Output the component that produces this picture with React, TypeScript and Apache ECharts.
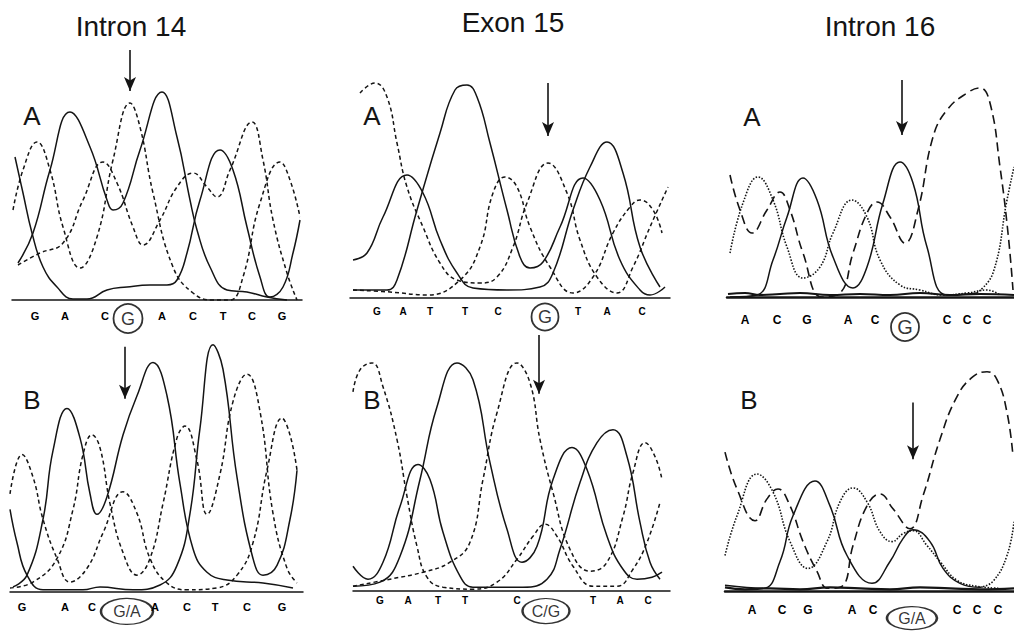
import React, { useEffect, useRef } from "react";
import * as echarts from "echarts";

type Pt = [number, number];

// ---------- Panel 1: Intron 14, A ----------
const i14A_A: Pt[] = [[18,37],[33,67],[50,130],[70,188],[90,153],[107,100],[113,90],[123,97],[140,150],[162,208],[177,163],[190,100],[197,70],[210,33],[227,10],[247,8],[267,3],[287,0]];
const i14A_T: Pt[] = [[15,143],[23,107],[32,67],[43,33],[57,13],[73,1],[87,1],[107,10],[127,13],[150,15],[167,15],[177,20],[187,47],[200,100],[220,150],[233,130],[247,73],[260,23],[270,3],[283,13],[293,47],[300,80]];
const i14A_C: Pt[] = [[18,35],[40,47],[63,57],[83,100],[103,138],[117,117],[133,73],[143,55],[160,80],[177,113],[193,127],[207,113],[217,103],[230,130],[252,178],[263,140],[273,80],[287,27],[297,0]];
const i14A_G: Pt[] = [[13,90],[23,130],[37,158],[50,130],[63,73],[80,32],[97,63],[113,140],[130,197],[140,173],[153,107],[173,33],[193,7],[213,0],[230,0],[243,23],[260,97],[280,138],[290,120],[300,83]];
const i14A_bases = ["G", "A", "C", "G", "A", "C", "T", "C", "G"];
const i14A_pos = [35, 65, 105, 128, 162, 193, 223, 252, 282];

// ---------- Panel 2: Exon 15, A ----------
const e15A_G: Pt[] = [[360,205],[375,215],[387,201],[397,155],[407,111],[423,71],[440,35],[457,18],[480,15],[497,21],[513,51],[527,95],[548,135],[567,105],[580,58],[597,21],[617,5],[633,31],[650,71],[668,111]];
const e15A_C: Pt[] = [[353,8],[390,6],[427,3],[460,18],[480,51],[493,105],[505,121],[517,111],[530,71],[550,31],[573,5],[593,21],[613,65],[630,91],[640,98],[653,88],[662,65]];
const e15A_T: Pt[] = [[353,8],[387,8],[397,18],[417,88],[440,165],[455,208],[467,213],[477,201],[490,155],[507,88],[520,41],[530,30],[543,36],[560,71],[583,120],[600,98],[620,38],[640,8],[650,3],[665,11]];
const e15A_A: Pt[] = [[353,38],[367,45],[383,81],[407,123],[423,105],[440,58],[457,25],[473,10],[507,8],[540,11],[553,25],[573,88],[590,131],[607,156],[623,125],[640,51],[660,11]];
const e15A_bases = ["G", "A", "T", "T", "C", "G", "T", "A", "C"];
const e15A_pos = [377, 403, 430, 465, 498, 545, 578, 607, 642];

// ---------- Panel 3: Intron 16, A ----------
const i16A_A: Pt[] = [[730,44],[743,94],[758,120],[773,97],[787,50],[803,19],[820,30],[833,64],[852,97],[867,80],[880,37],[900,12],[920,7],[943,2],[967,4],[987,7],[1000,2]];
const i16A_G: Pt[] = [[730,0],[757,2],[773,37],[787,80],[803,119],[817,97],[833,40],[853,9],[867,30],[883,94],[900,135],[913,114],[927,50],[947,2],[977,4]];
const i16A_N: Pt[] = [[977,4],[993,24],[1007,97],[1014,130]];
const i16A_C: Pt[] = [[730,122],[740,87],[752,64],[767,87],[780,105],[790,87],[803,44],[822,0],[840,4],[853,44],[867,84],[877,95],[890,80],[905,54],[918,87],[933,160],[947,187],[967,204],[980,209],[990,194],[1000,130],[1008,64],[1013,7]];
const i16A_T: Pt[] = [[728,3],[745,4],[760,2],[780,3],[800,4],[830,2],[860,3],[890,2],[920,4],[950,2],[980,3],[1014,2]];
const i16A_bases = ["A", "C", "G", "A", "C", "G", "C", "C", "C"];
const i16A_pos = [745, 777, 807, 848, 875, 905, 947, 967, 987];

// ---------- Panel 4: Intron 14, B ----------
const i14B_A: Pt[] = [[13,5],[27,17],[43,74],[53,144],[67,187],[80,157],[90,100],[97,79],[107,97],[123,160],[137,200],[153,234],[167,200],[180,110],[193,44],[207,20],[227,12],[263,9],[293,4]];
const i14B_T: Pt[] = [[10,84],[17,50],[27,17],[43,2],[83,2],[100,5],[133,2],[160,7],[177,27],[190,80],[200,167],[213,252],[223,227],[237,117],[253,34],[263,17],[277,27],[290,74],[297,124]];
const i14B_G: Pt[] = [[10,100],[22,140],[33,117],[43,74],[57,34],[70,10],[87,24],[103,60],[123,102],[137,80],[150,34],[167,9],[187,2],[217,4],[237,17],[253,50],[267,124],[282,177],[290,160],[297,124]];
const i14B_C: Pt[] = [[10,4],[33,10],[57,34],[73,84],[83,140],[92,160],[100,147],[110,90],[123,40],[137,17],[150,34],[163,90],[177,157],[185,169],[197,134],[207,79],[220,120],[233,194],[247,222],[260,184],[273,80],[287,24],[297,9]];
const i14B_bases = ["G", "A", "C", "G/A", "A", "C", "T", "C", "G"];
const i14B_pos = [22, 65, 92, 127, 155, 187, 215, 247, 282];

// ---------- Panel 5: Exon 15, B ----------
const e15B_G: Pt[] = [[353,200],[360,222],[372,229],[383,205],[397,152],[407,95],[417,45],[427,14],[443,4],[473,2],[497,9],[517,32],[533,55],[545,67],[557,55],[573,25],[593,5],[617,5],[633,22],[647,49],[660,89]];
const e15B_C: Pt[] = [[353,5],[390,12],[423,19],[450,29],[470,49],[483,112],[497,179],[517,229],[530,209],[540,152],[553,99],[570,42],[590,20],[607,29],[623,75],[633,119],[645,149],[655,135],[662,112]];
const e15B_A: Pt[] = [[353,25],[368,12],[383,29],[400,85],[418,127],[430,112],[443,59],[460,15],[473,4],[523,4],[547,12],[560,42],[580,109],[597,149],[613,162],[627,135],[640,69],[650,29],[660,12]];
const e15B_T: Pt[] = [[353,5],[380,9],[400,35],[420,112],[437,185],[457,229],[473,212],[490,129],[507,62],[522,29],[537,45],[553,112],[572,144],[587,122],[607,55],[623,22],[637,12],[652,14],[662,19]];
const e15B_bases = ["G", "A", "T", "T", "C", "C/G", "T", "A", "C"];
const e15B_pos = [380, 408, 438, 465, 517, 546, 593, 620, 648];

// ---------- Panel 6: Intron 16, B ----------
const i16B_A: Pt[] = [[725,36],[737,76],[757,118],[773,100],[790,50],[808,23],[827,50],[840,90],[853,104],[867,90],[880,60],[892,50],[903,58],[913,61],[927,46],[940,30],[957,11],[977,5],[1000,3]];
const i16B_G: Pt[] = [[725,6],[763,3],[780,30],[793,76],[815,111],[830,86],[847,36],[872,8],[890,30],[903,53],[913,62],[930,50],[943,23],[960,8],[980,4]];
const i16B_N: Pt[] = [[980,4],[993,10],[1007,36],[1014,70]];
const i16B_C: Pt[] = [[725,140],[737,103],[755,71],[767,93],[778,103],[790,86],[803,50],[817,20],[828,3],[842,5],[853,46],[867,86],[880,98],[893,83],[910,63],[923,96],[940,153],[957,196],[973,216],[987,221],[997,213],[1007,180],[1013,136]];
const i16B_T: Pt[] = [[725,4],[745,2],[770,3],[800,2],[830,4],[860,3],[890,2],[920,4],[950,3],[980,2],[1014,3]];
const i16B_bases = ["A", "C", "G", "A", "C", "G/A", "C", "C", "C"];
const i16B_pos = [752, 782, 808, 852, 873, 912, 957, 977, 998];

const titles = ["Intron 14", "Exon 15", "Intron 16"];

const FONT = "'Liberation Sans', Arial, Helvetica, sans-serif";
const INK = "#141414";
const H = 265;
const BELOW = 42;

type Trace = { data: Pt[]; kind: "solid" | "dash" | "longdash" | "dot" | "noise" };
type Panel = {
  xMin: number; xMax: number; baseY: number; axisW: number;
  traces: Trace[];
  bases: string[]; pos: number[]; labelH: number; markIdx: number;
  markH: number; markSize: number | number[]; markFont: number; letterSize: number;
  arrow: [number, number, number];
};

const panels: Panel[] = [
  { xMin: 12, xMax: 302, baseY: 300, axisW: 1.5,
    traces: [{ data: i14A_A, kind: "solid" }, { data: i14A_T, kind: "solid" }, { data: i14A_C, kind: "dash" }, { data: i14A_G, kind: "dash" }],
    bases: i14A_bases, pos: i14A_pos, labelH: -16, markIdx: 3, markH: -18.5, markSize: 29, markFont: 18, letterSize: 11,
    arrow: [130, 250, 209] },
  { xMin: 350, xMax: 670, baseY: 298, axisW: 1.5,
    traces: [{ data: e15A_T, kind: "solid" }, { data: e15A_A, kind: "solid" }, { data: e15A_C, kind: "dash" }, { data: e15A_G, kind: "dash" }],
    bases: e15A_bases, pos: e15A_pos, labelH: -13, markIdx: 5, markH: -19, markSize: 27, markFont: 18, letterSize: 10,
    arrow: [548, 215, 162] },
  { xMin: 727, xMax: 1014, baseY: 297, axisW: 2.5,
    traces: [{ data: i16A_G, kind: "solid" }, { data: i16A_A, kind: "dot" }, { data: i16A_N, kind: "dot" }, { data: i16A_C, kind: "longdash" }, { data: i16A_T, kind: "noise" }],
    bases: i16A_bases, pos: i16A_pos, labelH: -23, markIdx: 5, markH: -30, markSize: 28, markFont: 20, letterSize: 12,
    arrow: [902, 217, 162] },
  { xMin: 10, xMax: 303, baseY: 597, axisW: 1.5,
    traces: [{ data: i14B_A, kind: "solid" }, { data: i14B_T, kind: "solid" }, { data: i14B_C, kind: "dash" }, { data: i14B_G, kind: "dash" }],
    bases: i14B_bases, pos: i14B_pos, labelH: -15, markIdx: 3, markH: -20, markSize: [52, 26], markFont: 16, letterSize: 11,
    arrow: [125, 250, 197] },
  { xMin: 353, xMax: 670, baseY: 592, axisW: 1.5,
    traces: [{ data: e15B_T, kind: "solid" }, { data: e15B_A, kind: "solid" }, { data: e15B_C, kind: "dash" }, { data: e15B_G, kind: "dash" }],
    bases: e15B_bases, pos: e15B_pos, labelH: -9, markIdx: 5, markH: -20, markSize: [47, 25], markFont: 16, letterSize: 10,
    arrow: [539, 257, 198] },
  { xMin: 725, xMax: 1014, baseY: 593, axisW: 2.5,
    traces: [{ data: i16B_A, kind: "dot" }, { data: i16B_G, kind: "solid" }, { data: i16B_N, kind: "dot" }, { data: i16B_C, kind: "longdash" }, { data: i16B_T, kind: "noise" }],
    bases: i16B_bases, pos: i16B_pos, labelH: -19, markIdx: 5, markH: -27, markSize: [50, 23], markFont: 16, letterSize: 12,
    arrow: [913, 190, 133] },
];

function lineStyleFor(kind: Trace["kind"]) {
  switch (kind) {
    case "solid": return { color: INK, width: 1.5, type: "solid" as any };
    case "dash": return { color: INK, width: 1.5, type: [4, 3] as any };
    case "longdash": return { color: INK, width: 1.6, type: [9, 5] as any };
    case "dot": return { color: INK, width: 1.6, type: [1.5, 1.6] as any };
    default: return { color: INK, width: 2.2, type: "solid" as any };
  }
}

export default function App() {
  const ref = useRef<HTMLDivElement>(null);
  useEffect(() => {
    document.body.style.margin = "0";
    if (!ref.current) return;
    const chart = echarts.init(ref.current, undefined, { renderer: "svg" });

    const grid: any[] = [];
    const xAxis: any[] = [];
    const yAxis: any[] = [];
    const series: any[] = [];

    panels.forEach((p, i) => {
      grid.push({ left: p.xMin, top: p.baseY - H, width: p.xMax - p.xMin, height: H + BELOW, containLabel: false });
      xAxis.push({
        type: "value", gridIndex: i, min: p.xMin, max: p.xMax,
        axisLine: { show: true, onZero: true, lineStyle: { color: INK, width: p.axisW } },
        axisTick: { show: false }, axisLabel: { show: false }, splitLine: { show: false },
      });
      yAxis.push({
        type: "value", gridIndex: i, min: -BELOW, max: H,
        axisLine: { show: false }, axisTick: { show: false }, axisLabel: { show: false }, splitLine: { show: false },
      });
      p.traces.forEach((t, k) => {
        const s: any = {
          type: "line", xAxisIndex: i, yAxisIndex: i, data: t.data,
          smooth: 0.45, symbol: "none", showSymbol: false, clip: false, silent: true,
          lineStyle: lineStyleFor(t.kind), z: 3,
        };
        if (k === 0) {
          s.markLine = {
            silent: true, symbol: ["none", "arrow"], symbolSize: [9, 14],
            label: { show: false },
            lineStyle: { color: INK, width: 1.6, type: "solid" },
            data: [[{ coord: [p.arrow[0], p.arrow[1]] }, { coord: [p.arrow[0], p.arrow[2]] }]],
          };
        }
        series.push(s);
      });
      series.push({
        type: "scatter", xAxisIndex: i, yAxisIndex: i, silent: true, clip: false,
        symbol: "circle", symbolSize: 0, itemStyle: { color: INK, opacity: 0 },
        label: {
          show: true, position: "inside", formatter: (d: any) => d.name,
          fontFamily: FONT, fontWeight: "bold", fontSize: p.letterSize, color: "#000000",
          textBorderWidth: 0, textBorderColor: "transparent", opacity: 1,
        },
        data: p.bases.map((b, j) => ({ name: b, value: [p.pos[j], p.labelH] })).filter((_, j) => j !== p.markIdx),
        z: 5,
      });
      series.push({
        type: "scatter", xAxisIndex: i, yAxisIndex: i, silent: true, clip: false,
        symbol: "circle", symbolSize: p.markSize,
        itemStyle: { color: "#ffffff", borderColor: "#000000", borderWidth: 1.8 },
        label: {
          show: true, position: "inside", formatter: (d: any) => d.name,
          fontFamily: FONT, fontSize: p.markFont, color: "#000000",
          textBorderWidth: 0, textBorderColor: "transparent",
        },
        data: [{ name: p.bases[p.markIdx], value: [p.pos[p.markIdx], p.markH] }],
        z: 4,
      });
    });

    const titleX = [131, 513, 880];
    const titleY = [26, 22, 26];
    const letterPos: [number, number, string][] = [
      [32, 116, "A"], [372, 116, "A"], [752, 117, "A"],
      [32, 400, "B"], [372, 400, "B"], [749, 400, "B"],
    ];
    const graphic: any[] = [
      ...titles.map((t, k) => ({
        type: "text", x: titleX[k], y: titleY[k], silent: true,
        style: { text: t, fontFamily: FONT, fontSize: 28, fill: INK, align: "center", verticalAlign: "middle" },
      })),
      ...letterPos.map(([x, y, t]) => ({
        type: "text", x, y, silent: true,
        style: { text: t, fontFamily: FONT, fontSize: 26, fill: INK, align: "center", verticalAlign: "middle" },
      })),
    ];

    chart.setOption({
      animation: false,
      backgroundColor: "#ffffff",
      grid, xAxis, yAxis, series, graphic,
    });
    return () => chart.dispose();
  }, []);
  return <div ref={ref} style={{ width: 1014, height: 633 }} />;
}
